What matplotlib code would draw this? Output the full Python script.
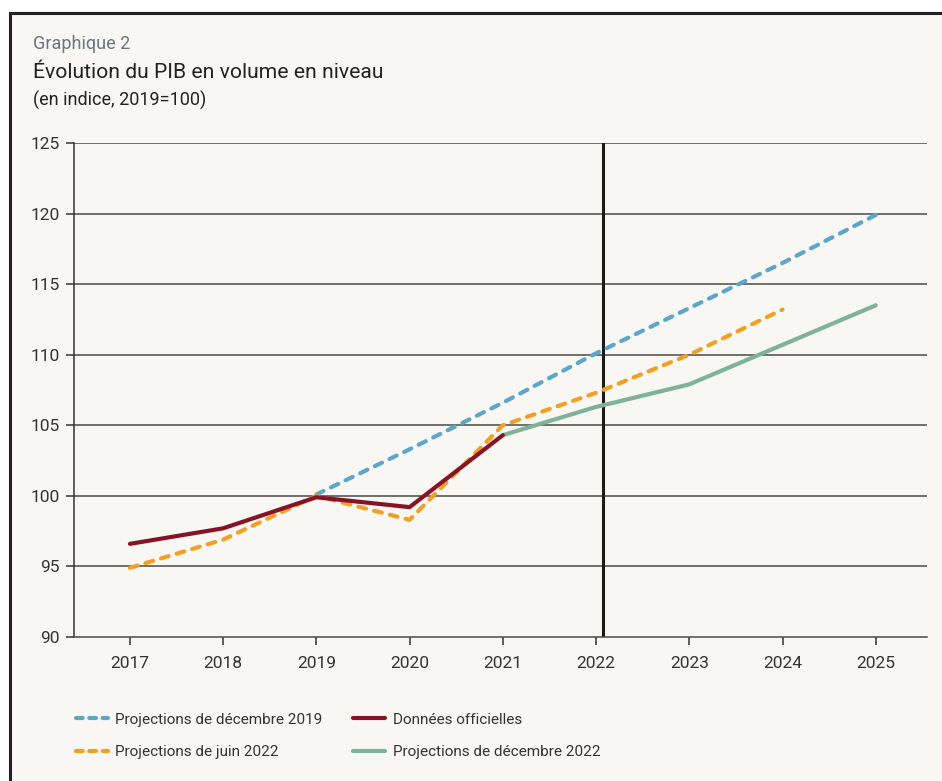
import matplotlib.pyplot as plt
from matplotlib.patches import Rectangle
from matplotlib.lines import Line2D

plt.rcParams['font.family'] = ['Roboto', 'DejaVu Sans']

# Données (indice, 2019=100)
annees_dec19 = [2019, 2020, 2021, 2022, 2023, 2024, 2025]
proj_dec19 = [100.1, 103.3, 106.6, 110.1, 113.3, 116.5, 119.9]

annees_juin22 = [2017, 2018, 2019, 2020, 2021, 2022, 2023, 2024]
proj_juin22 = [94.9, 96.9, 100.0, 98.3, 105.0, 107.3, 110.0, 113.2]

annees_off = [2017, 2018, 2019, 2020, 2021]
officielles = [96.6, 97.7, 99.9, 99.2, 104.3]

annees_dec22 = [2021, 2022, 2023, 2024, 2025]
proj_dec22 = [104.3, 106.3, 107.9, 110.7, 113.5]

annees_ticks = list(range(2017, 2026))
y_ticks = [90, 95, 100, 105, 110, 115, 120, 125]
x_coupure = 2022.07

fond = "#f8f7f3"
bleu = "#5ea6c8"
orange = "#f0a024"
rouge = "#851526"
vert = "#80b29b"

fig = plt.figure(figsize=(9.42, 7.81), dpi=100)
fig.patch.set_facecolor("white")
# cadre
fig.patches.append(Rectangle((10 / 942, -0.05), 1.1, 1 - 13 / 781 + 0.05,
                             transform=fig.transFigure, facecolor=fond,
                             edgecolor="#222222", linewidth=2.2, zorder=-5))

ax = fig.add_axes([74 / 942, 1 - 637 / 781, (927 - 74) / 942, (637 - 143) / 781])
ax.set_zorder(2)
ax.set_facecolor(fond)

for y in y_ticks[1:]:
    ax.axhline(y, color="#4a4a4a", lw=1.1, zorder=1)

ax.axvline(x_coupure, color="#1a1a1a", lw=2.2, zorder=2)

ls_tiret = dict(lw=3.0, dashes=(1.9, 2.0), dash_capstyle="round")
ax.plot(annees_dec19, proj_dec19, color=bleu, zorder=3, **ls_tiret)
ax.plot(annees_juin22, proj_juin22, color=orange, zorder=4, **ls_tiret)
ax.plot(annees_dec22, proj_dec22, color=vert, lw=3.0, zorder=3, solid_capstyle="round")
ax.plot(annees_off, officielles, color=rouge, lw=3.0, zorder=5, solid_capstyle="round")

ax.set_xlim(2016.4, 2025.55)
ax.set_ylim(90, 125)
ax.set_xticks(annees_ticks)
ax.set_yticks(y_ticks)
ax.tick_params(axis="both", labelsize=12.5, colors="#333333", length=6, width=1.1,
               direction="out")
ax.tick_params(axis="x", pad=8)
ax.tick_params(axis="y", pad=4)
for s in ["top", "right"]:
    ax.spines[s].set_visible(False)
ax.spines["left"].set_color("#333333")
ax.spines["bottom"].set_color("#4a4a4a")
ax.spines["left"].set_linewidth(1.1)
ax.spines["bottom"].set_linewidth(1.1)

fig.text(33 / 942, 1 - 44 / 781, "Graphique 2", fontsize=13, color="#6b7780", va="center")
fig.text(33 / 942, 1 - 72 / 781, "Évolution du PIB en volume en niveau", fontsize=15.2,
         color="#222222", va="center")
fig.text(33 / 942, 1 - 100 / 781, "(en indice, 2019=100)", fontsize=13,
         color="#222222", va="center")

poignees = [
    Line2D([], [], color=bleu, lw=3.0, dashes=(1.6, 1.6), dash_capstyle="round"),
    Line2D([], [], color=orange, lw=3.0, dashes=(1.6, 1.6), dash_capstyle="round"),
    Line2D([], [], color=rouge, lw=3.0, solid_capstyle="round"),
    Line2D([], [], color=vert, lw=3.0, solid_capstyle="round"),
]
etiquettes = ["Projections de décembre 2019", "Projections de juin 2022",
              "Données officielles", "Projections de décembre 2022"]
fig.legend(poignees, etiquettes, ncol=2, loc="upper left",
           bbox_to_anchor=(62 / 942, 1 - 699 / 781), frameon=False, fontsize=11,
           handlelength=2.1, handletextpad=0.5, columnspacing=2.0, labelspacing=1.2,
           labelcolor="#333333")

fig.savefig("out.png", dpi=100, facecolor="white")
